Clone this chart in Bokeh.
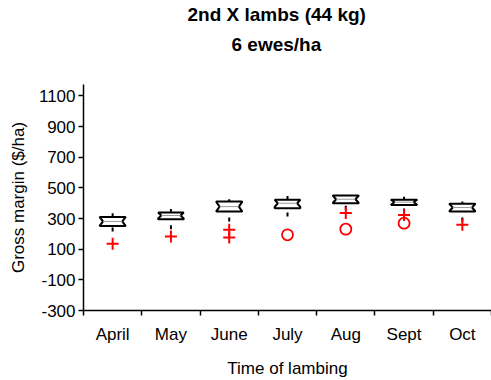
from bokeh.plotting import figure
from bokeh.models import FixedTicker, Title, Range1d
from bokeh.embed import file_html
from bokeh.resources import INLINE

# Gross margin ($/ha) distribution by month of lambing
months = ["April", "May", "June", "July", "Aug", "Sept", "Oct"]
whisker_hi = [335, 363, 426, 448, 454, 443, 411]
q3 = [311, 339, 411, 422, 450, 422, 396]
median = [281, 320, 378, 400, 426, 407, 372]
q1 = [251, 296, 346, 368, 400, 389, 346]
whisker_lo = [216, 231, 281, 313, 357, 339, 281]

# outliers (+) and extreme outliers (o)
outlier_month = ["April", "May", "June", "June", "Aug", "Sept", "Oct"]
outlier_value = [136, 183, 227, 177, 336, 324, 259]
extreme_month = ["July", "Aug", "Sept"]
extreme_value = [194, 231, 270]

y_ticks = [-300, -100, 100, 300, 500, 700, 900, 1100]
y_tick_labels = ["-300", "-100", "100", "300", "500", "700", "900", "1100"]

FONT = "Liberation Sans"
pos = {m: i + 1 for i, m in enumerate(months)}

p = figure(width=491, height=380, output_backend="svg", toolbar_location=None,
           x_range=Range1d(0.5, len(months) + 0.5), y_range=Range1d(-300, 1175),
           min_border_left=83, min_border_right=0, min_border_top=0,
           min_border_bottom=0)
p.outline_line_color = None
p.xgrid.grid_line_color = None
p.ygrid.grid_line_color = None
p.background_fill_color = "white"
p.border_fill_color = "white"

# notched boxes
half_w = 0.22
notch = 0.055
xs, ys = [], []
for m, hi, md, lo in zip(months, q3, median, q1):
    c = pos[m]
    iqr = hi - lo
    n_hi = min(hi, md + 0.45 * iqr)
    n_lo = max(lo, md - 0.45 * iqr)
    xs.append([c - half_w, c + half_w, c + half_w, c + half_w - notch, c + half_w,
               c + half_w, c - half_w, c - half_w, c - half_w + notch, c - half_w])
    ys.append([hi, hi, n_hi, md, n_lo, lo, lo, n_lo, md, n_hi])

centers = [pos[m] for m in months]
# upper whiskers
p.segment(x0=centers, y0=q3, x1=centers, y1=whisker_hi, line_color="black", line_width=2)
# lower whiskers drawn from the far end as a short dash
p.segment(x0=centers, y0=whisker_lo, x1=centers, y1=q1, line_color="black",
          line_width=2, line_dash="4 60")
p.patches(xs=xs, ys=ys, fill_color="white", line_color="black", line_width=2)
# median lines
p.segment(x0=[c - half_w + notch for c in centers], y0=median,
          x1=[c + half_w - notch for c in centers], y1=median,
          line_color="#9a9a9a", line_width=1)

p.scatter(x=[pos[m] for m in outlier_month], y=outlier_value, marker="cross",
          size=12, line_color="red", line_width=2)
p.scatter(x=[pos[m] for m in extreme_month], y=extreme_value, marker="circle",
          size=11, line_color="red", fill_color=None, line_width=1.8)

# x axis: labels at month centres, ticks between months
xa = p.xaxis[0]
xa.ticker = FixedTicker(ticks=centers,
                        minor_ticks=[i + 0.5 for i in range(len(months) + 1)])
xa.major_label_overrides = {c: m for c, m in zip(centers, months)}
xa.major_tick_out = 0
xa.major_tick_in = 0
xa.minor_tick_out = 5
xa.minor_tick_in = 0
xa.minor_tick_line_color = "black"
xa.minor_tick_line_width = 1.5
xa.axis_line_width = 1.5
xa.axis_line_color = "black"
xa.major_label_text_font = FONT
xa.major_label_text_font_size = "17px"
xa.major_label_text_color = "black"
xa.major_label_standoff = 9
xa.axis_label = "Time of lambing"
xa.axis_label_text_font = FONT
xa.axis_label_text_font_size = "17px"
xa.axis_label_text_font_style = "normal"
xa.axis_label_text_color = "black"
xa.axis_label_standoff = 12

ya = p.yaxis[0]
ya.ticker = FixedTicker(ticks=y_ticks, minor_ticks=[])
ya.major_label_overrides = {t: s for t, s in zip(y_ticks, y_tick_labels)}
ya.major_tick_out = 5
ya.major_tick_in = 0
ya.major_tick_line_color = "black"
ya.major_tick_line_width = 1.5
ya.axis_line_width = 1.5
ya.axis_line_color = "black"
ya.major_label_text_font = FONT
ya.major_label_text_font_size = "17px"
ya.major_label_text_color = "black"
ya.major_label_standoff = 3
ya.axis_label = "Gross margin ($/ha)"
ya.axis_label_text_font = FONT
ya.axis_label_text_font_size = "17px"
ya.axis_label_text_font_style = "normal"
ya.axis_label_text_color = "black"
ya.axis_label_standoff = 8

# two-line title above the frame (outermost line is the plot title)
p.title.text = "2nd X lambs (44 kg)"
p.title.align = "left"
p.title.offset = 104
p.title.standoff = 3
p.title.text_font = FONT
p.title.text_font_size = "19px"
p.title.text_font_style = "bold"
p.title.text_color = "black"
# spacer between subtitle and frame, then the subtitle
p.add_layout(Title(text=" ", text_font_size="1px", standoff=21), "above")
p.add_layout(Title(text="6 ewes/ha", align="left", offset=148, standoff=11,
                   text_font=FONT, text_font_size="19px", text_font_style="bold",
                   text_color="black"),
             "above")

open("out.html", "w").write(file_html(p, INLINE))
